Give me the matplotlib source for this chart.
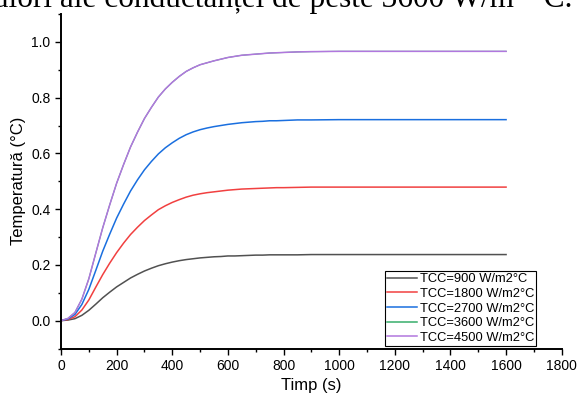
import matplotlib
matplotlib.use("Agg")
import matplotlib.pyplot as plt
from matplotlib.ticker import MultipleLocator, FormatStrFormatter

plt.rcParams["font.family"] = ["Liberation Sans", "DejaVu Sans"]

# Time samples (s)
time_s = [0, 25, 50, 75, 100, 125, 150, 175, 200, 225, 250, 275, 300,
          325, 350, 375, 400, 425, 450, 475, 500, 525, 550, 575, 600,
          625, 650, 675, 700, 725, 750, 775, 800, 850, 900,
          1000, 1100, 1200, 1300, 1400, 1500, 1600]

# Temperature response (°C) for each contact conductance
temp_900 = [0, .002, .007, .019, .037, .059, .082, .102, .121, .137, .153,
            .166, .178, .188, .197, .204, .210, .215, .219, .222, .225,
            .227, .229, .230, .232, .232, .233, .234, .235, .235, .236,
            .236, .236, .236, .237,
            .237, .237, .237, .237, .237, .237, .237]
temp_1800 = [0, .004, .014, .038, .074, .120, .165, .206, .244, .278, .309,
             .335, .359, .379, .398, .412, .424, .434, .443, .450, .455,
             .459, .462, .465, .468, .470, .472, .473, .474, .475, .476,
             .477, .477, .478, .479,
             .479, .479, .479, .479, .479, .479, .479]
temp_2700 = [0, .006, .022, .058, .112, .180, .249, .310, .368, .418, .465,
             .505, .541, .571, .598, .620, .638, .654, .667, .677, .685,
             .691, .696, .700, .704, .707, .710, .712, .714, .715, .717,
             .717, .718, .720, .720,
             .721, .721, .721, .721, .721, .721, .721]
temp_3600 = [0, .008, .029, .077, .150, .242, .333, .415, .493, .560, .623,
             .676, .725, .765, .802, .831, .855, .876, .894, .907, .918,
             .925, .932, .938, .944, .948, .952, .954, .956, .958, .960,
             .961, .962, .964, .965,
             .966, .966, .966, .966, .966, .966, .966]
temp_4500 = [0, .008, .029, .077, .150, .242, .333, .415, .493, .560, .623,
             .676, .725, .765, .802, .831, .855, .876, .894, .907, .918,
             .925, .932, .938, .944, .948, .952, .954, .956, .958, .960,
             .961, .962, .964, .965,
             .966, .966, .966, .966, .966, .966, .966]

series_labels = ["TCC=900 W/m2°C", "TCC=1800 W/m2°C", "TCC=2700 W/m2°C",
                 "TCC=3600 W/m2°C", "TCC=4500 W/m2°C"]
series_values = [temp_900, temp_1800, temp_2700, temp_3600, temp_4500]
series_colors = ["#515151", "#F14040", "#1A6FDF", "#37AD6B", "#B177DE"]
series_widths = [1.1, 1.1, 1.1, 0.8, 1.1]

fig = plt.figure(figsize=(5.77, 4.01), dpi=100)
ax = fig.add_axes([61 / 577, 1 - 348.5 / 401, 500.7 / 577, 334.5 / 401])

for vals, lab, col, lw in zip(series_values, series_labels, series_colors,
                              series_widths):
    ax.plot(time_s, vals, color=col, lw=lw, label=lab)

ax.set_xlim(0, 1800)
ax.set_ylim(-0.1, 1.1)
ax.xaxis.set_major_locator(MultipleLocator(200))
ax.xaxis.set_minor_locator(MultipleLocator(100))
ax.yaxis.set_major_locator(MultipleLocator(0.2))
ax.yaxis.set_minor_locator(MultipleLocator(0.1))
ax.yaxis.set_major_formatter(FormatStrFormatter("%.1f"))

for side in ("top", "right"):
    ax.spines[side].set_visible(False)
for side in ("left", "bottom"):
    ax.spines[side].set_linewidth(1.4)

ax.tick_params(which="major", direction="out", length=4.5, width=1.0,
               labelsize=10, pad=3)
ax.tick_params(which="minor", direction="out", length=2.3, width=1.0)

ax.set_xlabel("Timp (s)", fontsize=12, labelpad=4)
ax.set_ylabel("Temperatură (°C)", fontsize=12, labelpad=4)

leg = ax.legend(loc="lower left", bbox_to_anchor=(0.6477, 0.0084),
                fontsize=9.3, frameon=True, fancybox=False, framealpha=1,
                edgecolor="black", borderpad=0.15, handlelength=2.3,
                handletextpad=0.2, labelspacing=0.2, borderaxespad=0)
leg.get_frame().set_linewidth(0.8)
for h in leg.get_lines():
    h.set_linewidth(1.1)

# Closing line of the preceding paragraph, partly above the page edge
fig.text(572 / 577, 1 - 7 / 401,
         "valori ale conductanței de peste 3600 W/m² °C.",
         ha="right", va="baseline", fontsize=22.5,
         family=["Liberation Serif", "DejaVu Serif"])

fig.savefig("out.png", dpi=100)
